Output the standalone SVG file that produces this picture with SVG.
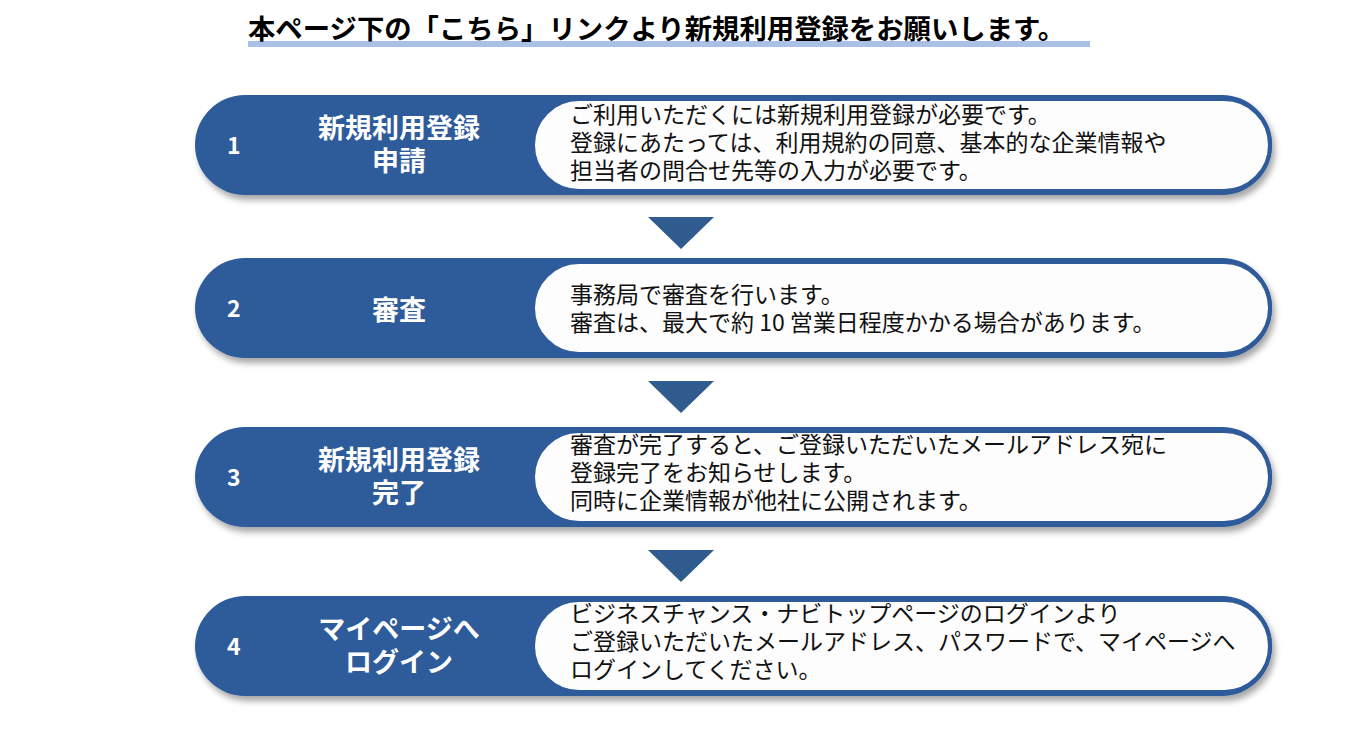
<svg xmlns="http://www.w3.org/2000/svg" width="1371" height="729" viewBox="0 0 1371 729">
<style>
text{font-family:"Noto Sans CJK JP","Noto Sans",sans-serif}
.num{fill:#fff;font-size:23px;font-weight:bold}
.lbl{fill:#fff;font-size:27px;font-weight:bold;text-anchor:middle}
.desc{fill:#111;font-size:23px}
.outer{fill:#2f5b9b}
.inner{fill:#fdfdfd;stroke:#2f5b9b;stroke-width:4}
.tri{fill:#2f5b8f}
</style>
<defs>
<filter id="sh" x="-5%" y="-20%" width="110%" height="150%"><feDropShadow dx="3" dy="5" stdDeviation="3" flood-color="#000" flood-opacity="0.35"/></filter>
</defs>
<rect width="1371" height="729" fill="#fff"/>
<g id="title">
<rect x="248" y="41" width="842" height="6" fill="#a9c1e4"/>
<text x="248" y="39" font-size="27" font-weight="bold" fill="#000" textLength="817" lengthAdjust="spacingAndGlyphs">本ページ下の「こちら」リンクより新規利用登録をお願いします。</text>
</g>
<g id="step1">
<rect class="outer" x="195" y="95" width="1077" height="100" rx="50" filter="url(#sh)"/>
<rect class="inner" x="533" y="99" width="737" height="92" rx="46"/>
<text class="num" x="227" y="154">1</text>
<text class="lbl" x="399" y="138">新規利用登録</text>
<text class="lbl" x="399" y="171">申請</text>
<text class="desc" x="570" y="123">ご利用いただくには新規利用登録が必要です。</text>
<text class="desc" x="570" y="151">登録にあたっては、利用規約の同意、基本的な企業情報や</text>
<text class="desc" x="570" y="179">担当者の問合せ先等の入力が必要です。</text>
</g>
<g id="step2">
<rect class="outer" x="195" y="258" width="1077" height="100" rx="50" filter="url(#sh)"/>
<rect class="inner" x="533" y="262" width="737" height="92" rx="46"/>
<text class="num" x="227" y="317">2</text>
<text class="lbl" x="399" y="320">審査</text>
<text class="desc" x="570" y="303">事務局で審査を行います。</text>
<text class="desc" x="570" y="331">審査は、最大で約 10 営業日程度かかる場合があります。</text>
</g>
<g id="step3">
<rect class="outer" x="195" y="427" width="1077" height="100" rx="50" filter="url(#sh)"/>
<rect class="inner" x="533" y="431" width="737" height="92" rx="46"/>
<text class="num" x="227" y="486">3</text>
<text class="lbl" x="399" y="470">新規利用登録</text>
<text class="lbl" x="399" y="503">完了</text>
<text class="desc" x="570" y="453">審査が完了すると、ご登録いただいたメールアドレス宛に</text>
<text class="desc" x="570" y="481">登録完了をお知らせします。</text>
<text class="desc" x="570" y="509">同時に企業情報が他社に公開されます。</text>
</g>
<g id="step4">
<rect class="outer" x="195" y="596" width="1077" height="100" rx="50" filter="url(#sh)"/>
<rect class="inner" x="533" y="600" width="737" height="92" rx="46"/>
<text class="num" x="227" y="655">4</text>
<text class="lbl" x="399" y="639">マイページへ</text>
<text class="lbl" x="399" y="672">ログイン</text>
<text class="desc" x="570" y="622">ビジネスチャンス・ナビトップページのログインより</text>
<text class="desc" x="570" y="650">ご登録いただいたメールアドレス、パスワードで、マイページへ</text>
<text class="desc" x="570" y="678">ログインしてください。</text>
</g>
<g id="connectors">
<polygon class="tri" points="648,217 714,217 681,249"/>
<polygon class="tri" points="648,381 714,381 681,413"/>
<polygon class="tri" points="648,550 714,550 681,582"/>
</g>
</svg>
